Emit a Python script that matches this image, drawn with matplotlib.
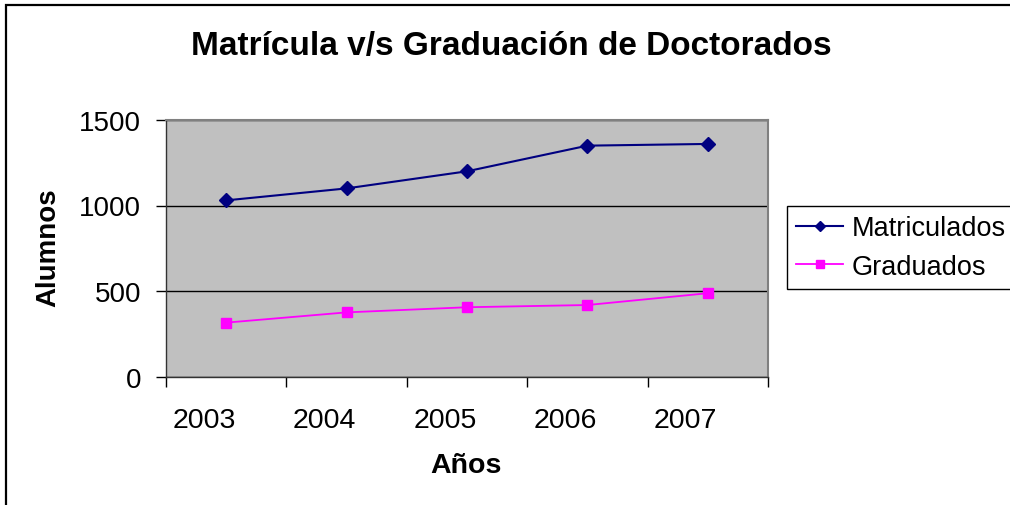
import matplotlib.pyplot as plt
import matplotlib.transforms as mtransforms
from matplotlib.patches import Rectangle

# data
years = ["2003", "2004", "2005", "2006", "2007"]
matriculados = [1030, 1100, 1200, 1350, 1360]
graduados = [315, 375, 405, 418, 487]

plt.rcParams['font.family'] = ['Liberation Sans', 'DejaVu Sans']

W, H = 1010, 506
fig = plt.figure(figsize=(W / 100, H / 100), dpi=100)

# outer chart frame (only left and top edges are visible)
fig.patches.append(Rectangle((5.5 / W, -0.2), 1.2, 1.2 - 5.5 / H,
                             transform=fig.transFigure, fill=False,
                             edgecolor="black", linewidth=1.6))

ax = fig.add_axes([166 / W, 1 - 377.5 / H, (768 - 166) / W, (377.5 - 121) / H])
ax.set_facecolor("#C0C0C0")

x = list(range(len(years)))
ax.plot(x, matriculados, color="#000080", lw=1.5, marker="D", ms=7,
        label="Matriculados", zorder=3)
ax.plot(x, graduados, color="#FF00FF", lw=1.3, marker="s", ms=7,
        label="Graduados", zorder=3)

ax.set_xlim(-0.5, len(years) - 0.5)
ax.set_ylim(0, 1500)
ax.set_yticks([0, 500, 1000, 1500])
ax.yaxis.grid(True, color="black", lw=1)
ax.set_axisbelow(True)

ax.set_xticks(x)
ax.set_xticklabels(years)
ax.set_xticks([i - 0.5 for i in range(len(years) + 1)], minor=True)
ax.tick_params(axis="x", which="major", length=0, pad=22, labelsize=20.5)
ax.tick_params(axis="x", which="minor", length=7, width=1, direction="out")
ax.tick_params(axis="y", length=7, width=1, pad=11, labelsize=20)

# Excel draws the category labels a little left of the category centre
shift = mtransforms.ScaledTranslation(-22 / 100, 0, fig.dpi_scale_trans)
for lbl in ax.get_xticklabels():
    lbl.set_transform(lbl.get_transform() + shift)

for side in ["top", "right"]:
    ax.spines[side].set_color("#808080")
    ax.spines[side].set_linewidth(1.5)
for side in ["left", "bottom"]:
    ax.spines[side].set_color("#333333")
    ax.spines[side].set_linewidth(1)

fig.text(511 / W, 1 - 46 / H, "Matrícula v/s Graduación de Doctorados",
         ha="center", va="center", fontsize=24, fontweight="bold")
fig.text(48 / W, 1 - 248 / H, "Alumnos", rotation=90, ha="center",
         va="center", fontsize=20, fontweight="bold")
fig.text(466 / W, 1 - 466 / H, "Años", ha="center", va="center",
         fontsize=20.5, fontweight="bold")

leg = fig.legend(loc="upper left", bbox_to_anchor=(787 / W, 1 - 207 / H),
                 fontsize=19.5, frameon=True, fancybox=False,
                 edgecolor="black", framealpha=1, borderpad=0.35,
                 handlelength=1.7, handletextpad=0.33, labelspacing=0.45,
                 borderaxespad=0)
leg.get_frame().set_linewidth(1)
for h in leg.legend_handles:
    h.set_markersize(5.5)

fig.savefig("out.png", dpi=100, facecolor="white")
